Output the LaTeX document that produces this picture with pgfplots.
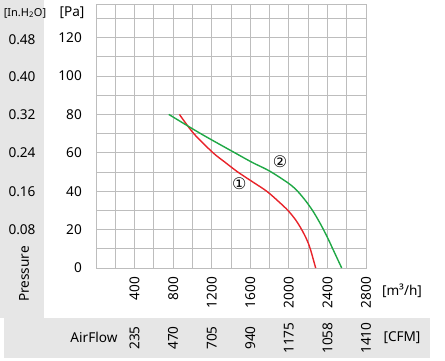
\documentclass[border=0pt]{standalone}
\usepackage{pgfplots}
\pgfplotsset{compat=1.18}
\usepackage{fontspec}
\setmainfont{Noto Sans}
\newfontfamily\symfont{DejaVu Sans}
\definecolor{band}{HTML}{E6E6E6}
\definecolor{gridc}{HTML}{BDBDBD}
\definecolor{cred}{HTML}{E8232A}
\definecolor{cgreen}{HTML}{1FA845}
\newcommand{\fs}{\fontsize{13.6}{15}\selectfont}
\begin{document}
\begin{tikzpicture}
\begin{scope}[x=1pt,y=-1pt]
\path[use as bounding box] (0,0) rectangle (445,361);
\fill[band] (0,0) rectangle (44,318);
\fill[band] (4,318) rectangle (430,358);
\node[font=\fontsize{11}{13}\selectfont, inner sep=0pt] at (25,13) {[In.H\textsubscript{2}O]};
\node[font=\fs, inner sep=0pt] at (72,13) {[Pa]};
\foreach \v/\y in {0.48/40,0.40/76.2,0.32/114.5,0.24/153,0.16/191.2,0.08/229.6}{
  \node[font=\fs, inner sep=0pt] at (22,\y) {\v};
}
\node[rotate=90, font=\fs, inner sep=0pt] at (24,274) {Pressure};
\node[font=\fs, inner sep=0pt] at (94,337) {AirFlow};
\node[font=\fs, inner sep=0pt] at (402,291) {[m³/h]};
\node[font=\fs, inner sep=0pt] at (402,338) {[CFM]};
\foreach \v/\x in {235/134.6,470/173.1,705/211.7,940/250.3,1175/288.9,1058/327.4,1410/366}{
  \node[rotate=90, font=\fs, inner sep=0pt] at (\x,338) {\v};
}
\end{scope}
\begin{axis}[
  at={(96pt,-268pt)}, anchor=south west,
  scale only axis, width=270pt, height=264pt,
  xmin=0, xmax=2800, ymin=0, ymax=137.5,
  xtick={400,800,...,2800}, minor xtick={200,600,...,2600},
  ytick={0,20,...,120}, minor ytick={10,30,...,130},
  grid=both,
  major grid style={gridc, line width=0.8pt},
  minor grid style={gridc, line width=0.8pt},
  axis line style={gridc, line width=0.8pt},
  major tick length=0pt, minor tick length=0pt,
  tick style={draw=none},
  ticklabel style={font=\fs},
  /pgf/number format/assume math mode=true,
  /pgf/number format/set thousands separator={},
  yticklabel style={anchor=east, inner sep=0pt, xshift=-14pt},
  xticklabel style={rotate=90, anchor=east, inner sep=0pt},
  xticklabel shift=9pt,
  clip=false,
]
\addplot[cred, line width=1.4pt, smooth] coordinates {
 (865,80) (1014,70) (1214,60) (1340,55) (1470,50) (1620,45) (1770,40) (1885,35) (1990,30) (2071,25) (2133,20) (2184,15) (2222,10) (2278,0)
};
\addplot[cgreen, line width=1.4pt, smooth] coordinates {
 (755,80) (1085,70) (1440,60) (1620,55) (1800,50.5) (2000,44) (2090,40) (2174,35) (2245,30) (2305,25) (2359,20) (2409,15) (2455,10) (2548,0)
};
\node[font=\symfont\fontsize{16}{18}\selectfont, inner sep=0pt] at (axis cs:1908,55.3) {②};
\node[font=\symfont\fontsize{16}{18}\selectfont, inner sep=0pt] at (axis cs:1486,44.1) {①};
\end{axis}
\end{tikzpicture}
\end{document}
